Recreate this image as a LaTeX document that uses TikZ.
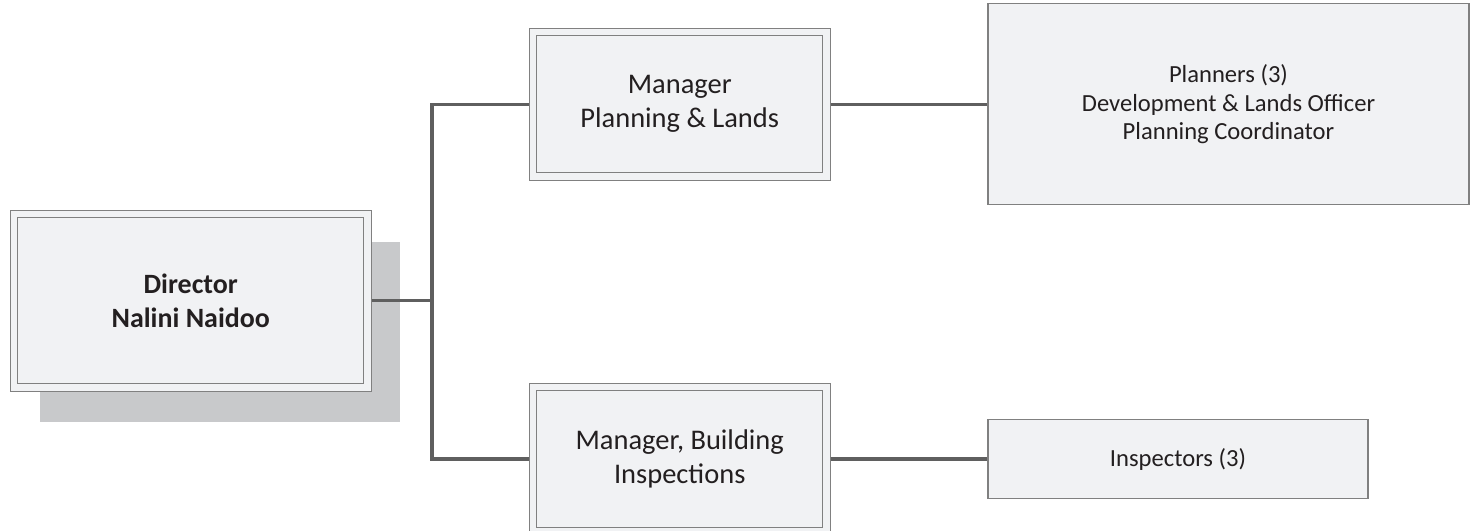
\documentclass[tikz,border=0pt]{standalone}
\usepackage{fontspec}
\setmainfont{Carlito}
\usetikzlibrary{positioning,calc}
\definecolor{boxfill}{HTML}{F1F2F4}
\definecolor{boxline}{HTML}{808080}
\definecolor{shadowgray}{HTML}{C8C9CB}
\definecolor{linkgray}{HTML}{5F5F5F}
\definecolor{inkgray}{HTML}{231F20}
\begin{document}
\begin{tikzpicture}[
every node/.style={align=center,text=inkgray,inner sep=0pt},
twobox/.style={draw=boxline,line width=0.55pt,double=boxfill,double distance=3.6pt,fill=boxfill,outer sep=2.3pt},
onebox/.style={draw=boxline,line width=0.6pt,fill=boxfill},
link/.style={draw=linkgray,line width=1.8pt}]
\useasboundingbox (0,0) rectangle (29.4,-10.62);
\node (dirshadow) [fill=shadowgray,minimum width=7.2cm,minimum height=3.6cm] at (4.4,-6.64) {};
\node (dir) [twobox,minimum width=7.07cm,minimum height=3.47cm,font=\fontsize{15.9}{19.3}\selectfont\bfseries] at (3.815,-6.015) {Director\\Nalini Naidoo};
\node (mpl) [twobox,minimum width=5.87cm,minimum height=2.89cm,font=\fontsize{16.2}{19.3}\selectfont] at (13.595,-2.085) {Manager\\Planning \& Lands};
\node (mbi) [twobox,minimum width=5.87cm,minimum height=2.89cm,font=\fontsize{16.2}{19.3}\selectfont] at (13.595,-9.18) {Manager, Building\\Inspections};
\node (plan) [onebox,minimum width=9.62cm,minimum height=4.02cm,font=\fontsize{14}{16.4}\selectfont] at (24.57,-2.085) {Planners (3)\\Development \& Lands Officer\\Planning Coordinator};
\node (insp) [onebox,minimum width=7.6cm,minimum height=1.58cm,font=\fontsize{14}{16.4}\selectfont] at (23.56,-9.18) {Inspectors (3)};
\coordinate (trunk) at (8.64,-6);
\draw[link] (dir.east) -- (dir.east -| trunk);
\draw[link] (mpl.west) -- (mpl.west -| trunk) -- (mbi.west -| trunk) -- (mbi.west);
\draw[link] (mpl.east) -- (plan.west);
\draw[link] (mbi.east) -- (insp.west);
\end{tikzpicture}
\end{document}
